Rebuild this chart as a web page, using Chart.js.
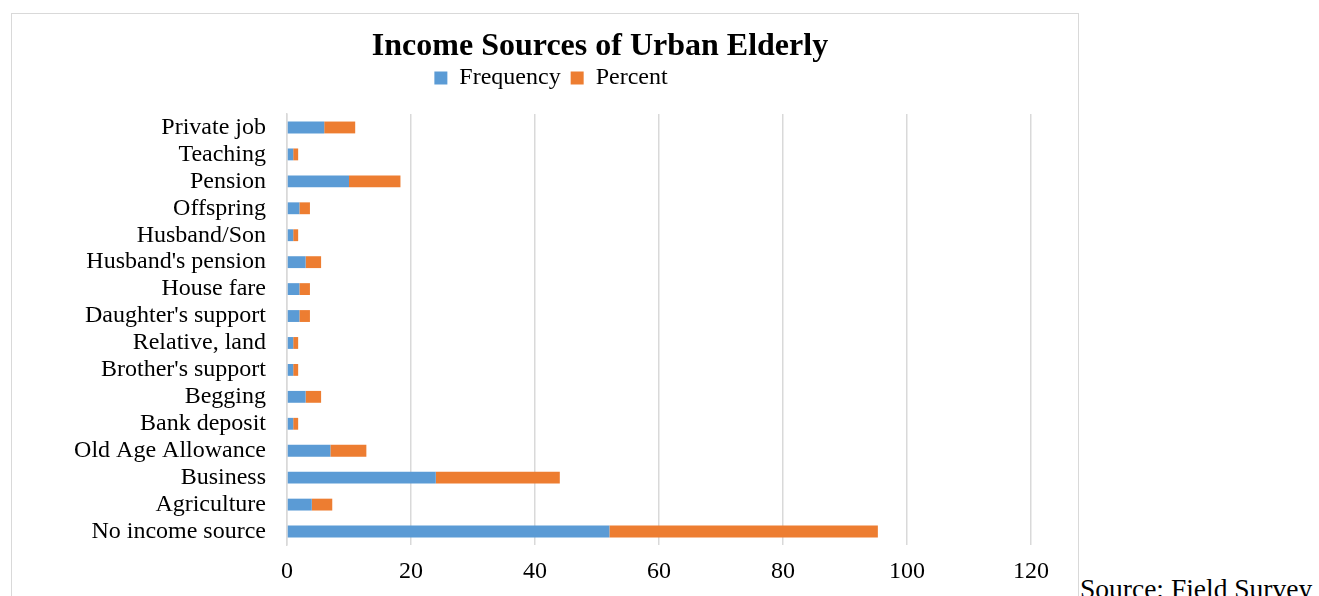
<!DOCTYPE html>
<html>
<head>
<meta charset="utf-8">
<title>Income Sources of Urban Elderly</title>
<script src="https://cdn.jsdelivr.net/npm/chart.js@4.4.0/dist/chart.umd.min.js"></script>
<style>
    html, body { margin: 0; padding: 0; background: #fff; overflow: hidden; }
    body { width: 1319px; height: 596px; position: relative; font-family: "Liberation Serif", "Times New Roman", serif; }
    #moldura { position: absolute; left: 11px; top: 13px; width: 1066px; height: 600px; border: 1px solid #d9d9d9; }
    #caixa { position: absolute; left: 12px; top: 13px; width: 1066px; height: 583px; }
    #titulo { position: absolute; left: 300px; top: 28px; width: 600px; text-align: center; font-weight: bold; font-size: 32px; line-height: 32px; color: #000; }
    #fonte { position: absolute; left: 1080px; top: 575px; font-size: 27.5px; line-height: 27px; color: #000; white-space: nowrap; }
</style>
</head>
<body>
<div id="moldura"></div>
<div id="caixa"><canvas id="graficoRenda" width="1066" height="583"></canvas></div>
<div id="titulo">Income Sources of Urban Elderly</div>
<div id="fonte">Source: Field Survey</div>
<script>
const categorias = [
    "Private job", "Teaching", "Pension", "Offspring", "Husband/Son",
    "Husband's pension", "House fare", "Daughter's support", "Relative, land",
    "Brother's support", "Begging", "Bank deposit", "Old Age Allowance",
    "Business", "Agriculture", "No income source"
];
const frequencia = [6, 1, 10, 2, 1, 3, 2, 2, 1, 1, 3, 1, 7, 24, 4, 52];
const percentual = [5.0, 0.8, 8.3, 1.7, 0.8, 2.5, 1.7, 1.7, 0.8, 0.8, 2.5, 0.8, 5.8, 20.0, 3.3, 43.3];
const maximoX = 120;
const passoX = 20;

const fonteSerif = "'Liberation Serif', 'Times New Roman', serif";

// a legenda precisa de um espaço maior embaixo do que em cima
const espacoLegenda = {
    id: 'espacoLegenda',
    beforeLayout(chart) {
        const legenda = chart.legend;
        if (legenda && !legenda._ajustada) {
            const fitOriginal = legenda.fit.bind(legenda);
            legenda.fit = function () {
                fitOriginal();
                this.height += 14;
            };
            legenda._ajustada = true;
        }
    }
};

const ctx = document.getElementById("graficoRenda").getContext("2d");

new Chart(ctx, {
    type: "bar",
    data: {
        labels: categorias,
        datasets: [
            { label: "Frequency", data: frequencia, backgroundColor: "#5b9bd5" },
            { label: "Percent", data: percentual, backgroundColor: "#ed7d31" }
        ]
    },
    options: {
        indexAxis: 'y',
        responsive: false,
        animation: false,
        devicePixelRatio: 1,
        layout: { padding: { left: 59, right: 47, top: 43, bottom: 0 } },
        datasets: { bar: { barPercentage: 0.44, categoryPercentage: 1 } },
        scales: {
            x: {
                stacked: true,
                min: 0,
                max: maximoX,
                ticks: { stepSize: passoX, color: "#000", padding: 12, font: { family: fonteSerif, size: 24 } },
                grid: { color: "#d9d9d9", lineWidth: 1.5, drawTicks: false },
                border: { display: false },
                afterFit(escala) { escala.height = 51; }
            },
            y: {
                stacked: true,
                ticks: { autoSkip: false, color: "#000", padding: 21, font: { family: fonteSerif, size: 24, lineHeight: 1 } },
                grid: { display: false, drawTicks: false },
                border: { display: true, color: "#d9d9d9", width: 1.5 },
                afterFit(escala) { escala.width = 216; }
            }
        },
        plugins: {
            title: { display: false },
            tooltip: { enabled: false },
            legend: {
                position: 'top',
                labels: {
                    boxWidth: 13,
                    boxHeight: 13,
                    padding: 10,
                    color: "#000",
                    font: { family: fonteSerif, size: 24 }
                }
            }
        }
    },
    plugins: [espacoLegenda]
});
</script>
</body>
</html>
